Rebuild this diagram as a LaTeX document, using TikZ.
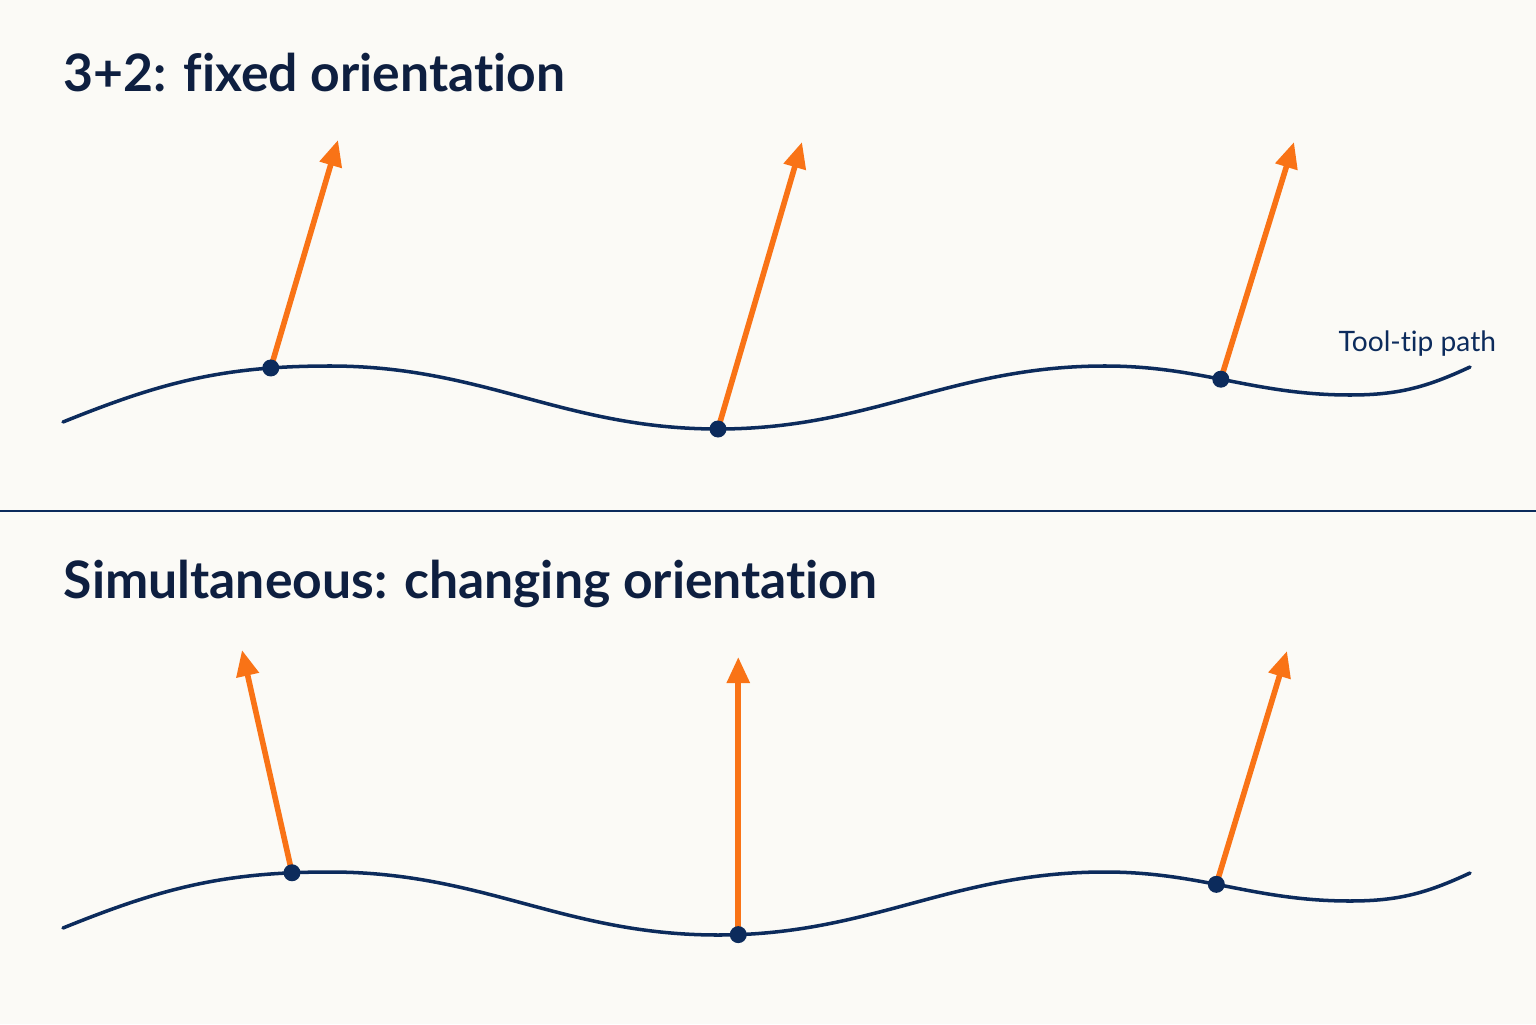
\documentclass[tikz,border=0pt]{standalone}
\usepackage{fontspec}
\setmainfont{Lato}[Ligatures=NoCommon]
\usepackage{tikz}
\usetikzlibrary{calc, arrows.meta}
\definecolor{navy}{HTML}{0C2B5C}
\definecolor{ink}{HTML}{0E1F40}
\definecolor{tool}{HTML}{F97316}
\definecolor{paper}{HTML}{FBFAF6}

\begin{document}
\begin{tikzpicture} [
        path line/.style={navy, line width=1pt, line cap=round},
        tool axis/.style={tool, line width=1.6pt, -{Triangle[length=0.26cm, width=0.22cm]}},
        heading/.style={anchor=base west, inner sep=0, text=ink, font=\bfseries\fontsize{14.7}{16}\selectfont},
        path label/.style={anchor=base west, inner sep=0, text=navy, font=\fontsize{8}{9}\selectfont}
    ]
                    \fill[paper] (0, 0) rectangle (15.36, 10.24);
                    \useasboundingbox (0, 0) rectangle (15.36, 10.24);
                    \node[heading] (h1) at (0.63, 9.32) {3+2: fixed orientation};
                    \node[heading] (h2) at (0.63, 4.26) {Simultaneous: changing orientation};
                    \draw[navy, line width=0.6pt] (0, 5.13) -- (15.36, 5.13);
                    % top: same tool direction everywhere
                    \draw[path line] (0.63, 6.02) to[out=22, in=180] coordinate[pos=0.8] (a1) (3.30, 6.58)
                        to[out=0, in=180] (7.18, 5.95) coordinate (a2)
                        to[out=0, in=180] (11.05, 6.58)
                        to[out=0, in=180] coordinate[pos=0.47] (a3) (13.50, 6.29)
                        to[out=0, in=205] (14.70, 6.57) coordinate (aend);
                    \node[path label] (lbl) at (13.38, 6.72) {Tool-tip path};
                    \coordinate (t1) at (3.38, 8.84);
                    \coordinate (t2) at (8.02, 8.82);
                    \coordinate (t3) at (12.94, 8.82);
                    \draw[tool axis] (a1) -- (t1);
                    \draw[tool axis] (a2) -- (t2);
                    \draw[tool axis] (a3) -- (t3);
                    \fill[navy] (a1) circle[radius=0.085];
                    \fill[navy] (a2) circle[radius=0.085];
                    \fill[navy] (a3) circle[radius=0.085];
                    % bottom: tool direction follows the path
                    \draw[path line] (0.63, 0.96) to[out=22, in=180] coordinate[pos=0.875] (b1) (3.30, 1.52)
                        to[out=0, in=180] (7.18, 0.89)
                        to[out=0, in=180] coordinate[pos=0.045] (b2) (11.05, 1.52)
                        to[out=0, in=180] coordinate[pos=0.45] (b3) (13.50, 1.23)
                        to[out=0, in=205] (14.70, 1.51) coordinate (bend);
                    \coordinate (s1) at (2.42, 3.74);
                    \coordinate (s2) at (7.38, 3.67);
                    \coordinate (s3) at (12.87, 3.73);
                    \draw[tool axis] (b1) -- (s1);
                    \draw[tool axis] (b2) -- (b2 |- s2);
                    \draw[tool axis] (b3) -- (s3);
                    \fill[navy] (b1) circle[radius=0.085];
                    \fill[navy] (b2) circle[radius=0.085];
                    \fill[navy] (b3) circle[radius=0.085];
                \end{tikzpicture}
\end{document}
